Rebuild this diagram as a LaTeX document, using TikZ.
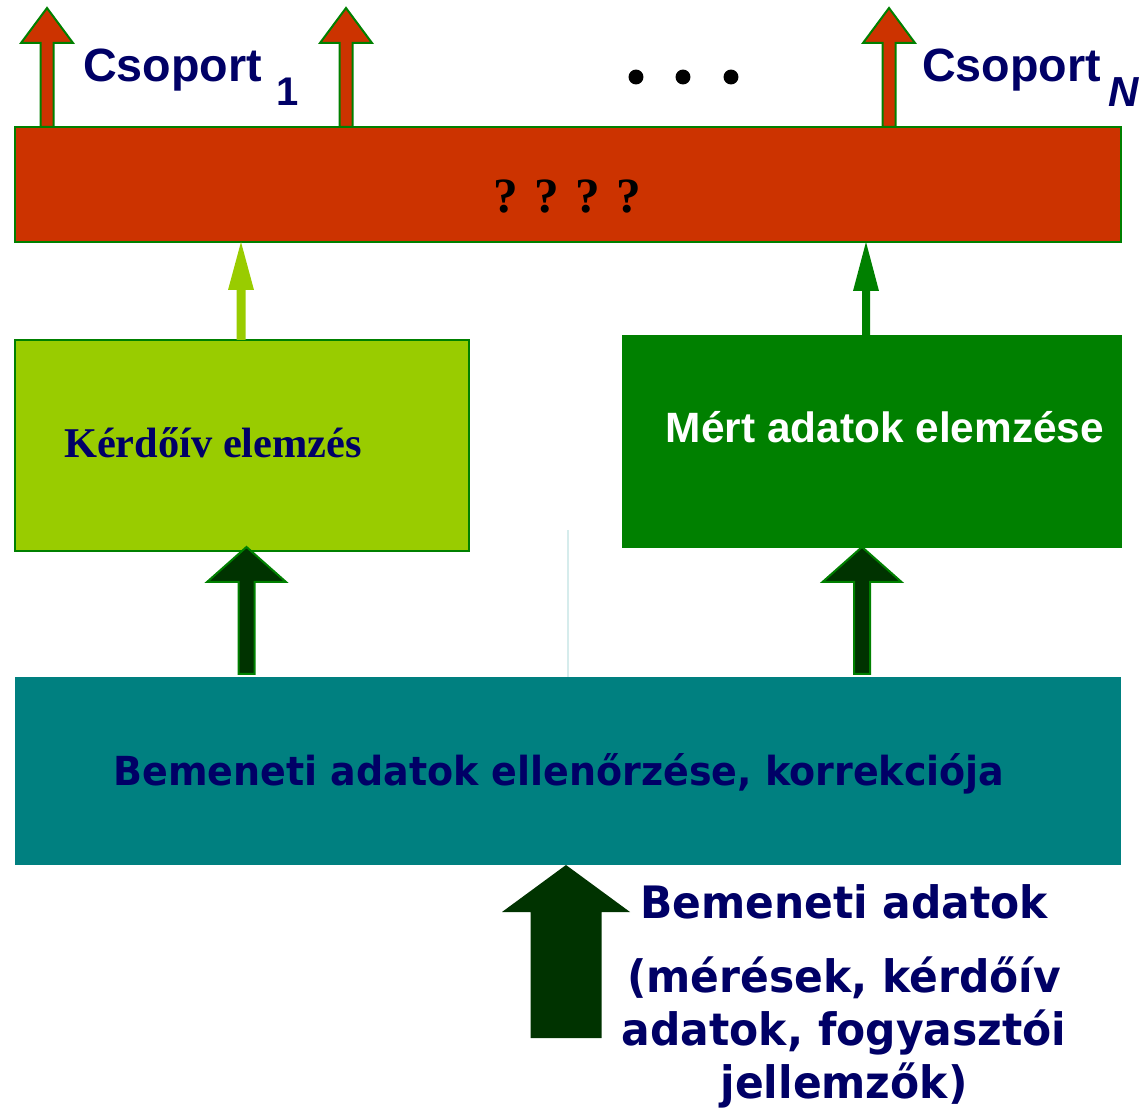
\documentclass[tikz,border=0pt]{standalone}
\usepackage{fontspec}
\usetikzlibrary{calc}
\newfontfamily\arialf{Liberation Sans}
\newfontfamily\timesf{Liberation Serif}
\newfontfamily\tahof{DejaVu Sans}[FakeStretch=0.95]

\definecolor{brick}{HTML}{CC3300}
\definecolor{limeg}{HTML}{99CC00}
\definecolor{grn}{HTML}{008000}
\definecolor{dkgrn}{HTML}{003300}
\definecolor{tealc}{HTML}{008080}
\definecolor{navy}{HTML}{000066}
\definecolor{faint}{HTML}{D6ECEC}

% block arrow: style, tail, tip, shaft half-width, head half-width, head length (px)
\newcommand\blockarrow[6]{%
  \path[#1] let \p1=(#2), \p2=(#3) in
    (\x2-#4*0.75pt,\y1) -- (\x2-#4*0.75pt,\y2-#6*0.75pt) -- (\x2-#5*0.75pt,\y2-#6*0.75pt) -- (\p2)
    -- (\x2+#5*0.75pt,\y2-#6*0.75pt) -- (\x2+#4*0.75pt,\y2-#6*0.75pt) -- (\x2+#4*0.75pt,\y1) -- cycle;}

\tikzset{
  box/.style={rectangle, inner sep=0pt, outer sep=0pt},
  outarrow/.style={fill=brick, draw=grn, line width=1.5pt, line join=miter},
  feedarrow/.style={fill=dkgrn, draw=grn, line width=1.5pt, line join=miter},
  label/.style={inner sep=0pt, anchor=base west, text=navy},
}

\begin{document}
\begin{tikzpicture}[x=0.75pt, y=-0.75pt]
\useasboundingbox (0,0) rectangle (1140,1112);

% faint guide line in the middle
\draw[faint, line width=1.2pt] (568,530) -- (568,677);

% main boxes
\node[box, fill=brick, draw=grn, line width=1.5pt, minimum width=829.5pt, minimum height=86.25pt] (red) at (568,184.5) {};
\node[box, fill=limeg, draw=grn, line width=1.5pt, minimum width=340.5pt, minimum height=158.25pt] (kerd) at (242,445.5) {};
\node[box, fill=grn, minimum width=375pt, minimum height=159.75pt] (mert) at (872,441.5) {};
\node[box, fill=tealc, minimum width=829.5pt, minimum height=141pt] (teal) at (568,771) {};

% box texts
\node[inner sep=0pt, anchor=base] (qm) at (567,213) {\timesf\bfseries\fontsize{37}{37}\selectfont ? ? ? ?};
\node[label, anchor=base] (kt) at (213,458) {\timesf\bfseries\fontsize{31.8}{32}\selectfont Kérdőív elemzés};
\node[label, text=white, anchor=base] (mt) at (885,443) {\arialf\bfseries\fontsize{31.8}{32}\selectfont Mért adatok elemzése};
\node[label, anchor=base] (tt) at (559,785) {\tahof\bfseries\fontsize{30}{30}\selectfont Bemeneti adatok ellenőrzése, korrekciója};

% output groups
\node[label] (c1) at (83,82) {\arialf\bfseries\fontsize{35}{35}\selectfont Csoport};
\node[label] (c1s) at (276,106) {\arialf\bfseries\fontsize{30}{30}\selectfont 1};
\node[label] (cn) at (922,82) {\arialf\bfseries\fontsize{35}{35}\selectfont Csoport};
\node[label] (cns) at (1108,107) {\arialf\bfseries\itshape\fontsize{31.5}{32}\selectfont N};
\foreach \i/\xx in {1/636,2/683,3/731}
  \fill (\xx,77) circle[radius=5.6pt] coordinate (dot\i);

% output arrows
\coordinate (o1) at (47,8);
\coordinate (o2) at (346,8);
\coordinate (o3) at (889,8);
\blockarrow{outarrow}{$(red.north west)+(32,0)$}{o1}{6.5}{26}{35}
\blockarrow{outarrow}{$(red.north west)+(331,0)$}{o2}{6.5}{26}{35}
\blockarrow{outarrow}{$(red.north west)+(874,0)$}{o3}{6.5}{26}{35}

% analysis results into the grouping
\blockarrow{fill=limeg}{$(kerd.north west)+(226,0)$}{$(red.south west)+(226,0)$}{4.5}{13}{48}
\blockarrow{fill=grn}{$(mert.north west)+(244,0)$}{$(red.south west)+(851,0)$}{4}{13}{49}

% checked data into the analyses
\blockarrow{feedarrow}{$(teal.north west)+(231.5,-3)$}{$(kerd.south west)+(231.5,-4)$}{8}{39.5}{35}
\blockarrow{feedarrow}{$(teal.north west)+(847,-3)$}{$(mert.south west)+(240,-1)$}{8}{39.5}{35}

% raw input
\coordinate (in) at (566,1038);
\blockarrow{fill=dkgrn}{in}{$(teal.south west)+(551,0)$}{35.5}{64}{47}

\node[label, anchor=base] (bt) at (844,918) {\tahof\bfseries\fontsize{33.5}{34}\selectfont Bemeneti adatok};
\node[label, anchor=base, align=center, font=\tahof\bfseries\fontsize{33.5}{37.5}\selectfont] (bd) at (844,1098)
  {(mérések, kérdőív\\[2pt]adatok, fogyasztói\\[2pt]jellemzők)};
\end{tikzpicture}
\end{document}
